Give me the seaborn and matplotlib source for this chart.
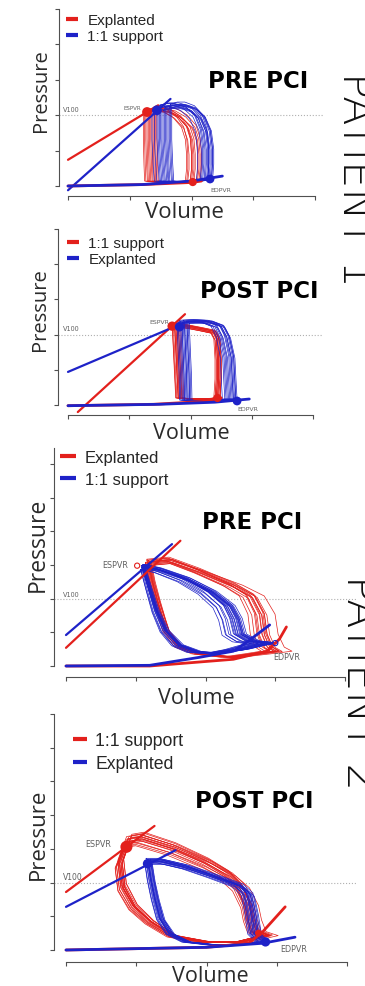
import matplotlib
matplotlib.use("Agg")
import matplotlib.pyplot as plt
from matplotlib.lines import Line2D
import numpy as np
import pandas as pd
import seaborn as sns

W, H = 365, 987
RED = "#e3201c"
BLUE = "#1e22c8"
AXC = "#505050"
LBL = "#606060"

# ---------------- patient 1, pre PCI ----------------
p1_red_v = [66, 66, 66.5, 67, 75, 87, 99, 100, 100, 99, 96, 89, 81, 73, 66]
p1_red_p = [106, 66, 31, 7, 5.5, 5.5, 7, 24, 45, 66, 83, 97.5, 106, 109, 106]
p1_red_esv = [-5, -4, -2, 0, 1, 3, 5, 6, -1, 2, -3, 4]
p1_red_edv = [-4, -2, 0, 1, 3, 5, 7, 8, 2, -3, 6, 0]
p1_red_ps = [1.0, 0.98, 1.02, 0.99, 1.01, 0.97, 1.0, 1.03, 0.98, 1.01, 0.99, 1.02]
p1_blue_v = [74, 74, 75, 76, 87, 103, 113, 114, 114, 112, 107, 99, 89, 81, 74]
p1_blue_p = [111, 66, 31, 7, 5.5, 7, 8.5, 31, 52, 78, 97, 109, 114, 114, 111]
p1_blue_esv = [-6, -4, -2, 0, 1, 2, 4, 5, 7, 9, 10, -1, 3, 6, 8]
p1_blue_edv = [-9, -6, -4, -2, 0, 1, 3, 4, -3, 0, 2, -5, 0, -1, 3]
p1_blue_ps = [0.98, 1.0, 1.02, 0.99, 1.03, 0.97, 1.01, 1.0, 0.98, 1.04, 0.99, 1.02, 0.96, 1.0, 1.01]
p1_red_espvr_v, p1_red_espvr_p = [0, 73], [37, 114]
p1_blue_espvr_v, p1_blue_espvr_p = [0, 83], [-6, 123]
p1_red_edpvr_v, p1_red_edpvr_p = [0, 60, 100, 108], [0, 2, 5, 7]
p1_blue_edpvr_v, p1_blue_edpvr_p = [0, 60, 100, 125], [0, 2, 7, 14]
p1_dot_v = [64, 72, 101, 115]
p1_dot_p = [104.5, 107, 5.6, 9.9]
p1_dot_c = [RED, BLUE, RED, BLUE]
p1_dot_s = [50, 50, 35, 40]

# ---------------- patient 1, post PCI ----------------
p2_red_v = [87, 88, 89, 90, 100, 112, 122, 123, 123, 122, 119, 108, 96, 87]
p2_red_p = [114, 80, 44, 10, 8.5, 8.5, 10, 37, 65, 94, 104, 108, 112, 114]
p2_red_esv = [-2, -1, 0, 0, 1, 2, 3, 4, 5, -2, 1, 3, 0, 2]
p2_red_edv = [-3, -2, -1, 0, 1, 2, 2, -1, 0, 1, -2, 2, 0, -1]
p2_red_ps = [1.0, 0.98, 1.01, 0.99, 1.02, 0.97, 1.0, 1.01, 0.99, 1.02, 0.98, 1.0, 1.01, 0.99]
p2_blue_v = [93, 94, 95, 95.5, 108, 124, 137, 136, 135, 131, 126, 116, 104, 93]
p2_blue_p = [118, 80, 44, 7, 5.7, 7, 8.5, 37, 68, 97, 112, 118, 119, 118]
p2_blue_esv = [-4, -3, -1, 0, 1, 2, 3, 4, 5, 6, -2, 0, 2, 4]
p2_blue_edv = [-11, -9, -7, -5, -4, -3, -2, -1, 0, 1, -6, -8, -2, 0]
p2_blue_ps = [1.0, 0.99, 1.01, 0.98, 1.02, 1.0, 0.99, 1.01, 1.0, 0.98, 1.02, 0.99, 1.0, 1.01]
p2_red_espvr_v, p2_red_espvr_p = [8, 95.5], [-10, 129]
p2_blue_espvr_v, p2_blue_espvr_p = [0, 94], [47, 116.5]
p2_red_edpvr_v, p2_red_edpvr_p = [0, 70, 110, 125], [-1, 1, 5, 10]
p2_blue_edpvr_v, p2_blue_edpvr_p = [0, 75, 120, 148], [-1, 1, 4, 8.5]
p2_dot_v = [85, 91, 122, 138]
p2_dot_p = [112, 111, 10, 5.7]
p2_dot_c = [RED, BLUE, RED, BLUE]
p2_dot_s = [45, 45, 35, 40]

# ---------------- patient 2, pre PCI ----------------
p3_red_v = [58, 61, 65, 69, 72, 82, 96, 120, 139, 153, 148, 144, 142, 135, 121, 96, 74, 58]
p3_red_p = [154, 125, 96, 70, 52, 28, 18, 13, 18, 22, 28, 47, 77, 104, 120, 141, 157, 154]
p3_red_esv = [-1, 0, 1, 2, 3, -1, 0, 1, 2, 0, 1, -1, 2, 3]
p3_red_edv = [-13, -10, -8, -6, -4, -2, -1, 0, 2, -7, -4, 9, 0, -2]
p3_red_ps = [1.0, 0.98, 1.02, 0.97, 1.01, 0.99, 1.03, 1.0, 0.98, 1.02, 0.99, 1.0, 1.01, 0.97]
p3_blue_v = [55, 60, 65, 72, 82, 95, 110, 128, 140, 148, 135, 126, 123, 118, 105, 87, 67, 55]
p3_blue_p = [148, 114, 82, 52, 31, 21, 19, 25, 31, 34, 37, 47, 70, 89, 110, 129, 143, 148]
p3_blue_esv = [-1.5, -1, -0.5, 0, 0.5, 1, 1.5, -1, 0, 0.5, 1, -0.5, 0, 1.5, -1.5, 0.5, 0, 1, -1, 0]
p3_blue_edv = [-18, -15, -12, -10, -8, -6, -4, -3, -1, 0, 1, 2, 3, 4, -14, -7, -2, 0, 1, -5]
p3_blue_ps = [0.97, 0.99, 1.01, 0.98, 1.02, 1.0, 0.99, 1.01, 1.0, 0.98, 1.02, 0.99, 1.0, 1.01,
              0.97, 1.0, 1.02, 0.99, 1.01, 1.0]
p3_red_espvr_v, p3_red_espvr_p = [0, 82], [27, 186]
p3_blue_espvr_v, p3_blue_espvr_p = [0, 76], [46, 181]
p3_red_edpvr_v = [0, 60, 96, 120, 144, 153, 158]
p3_red_edpvr_p = [0, 0, 6, 10, 22, 40, 58]
p3_blue_edpvr_v = [0, 60, 96, 120, 130, 146]
p3_blue_edpvr_p = [0, 1, 13, 22, 36, 61]
p3_dot_v = [51, 150]
p3_dot_p = [149, 34]
p3_dot_c = [RED, BLUE]

# ---------------- patient 2, post PCI ----------------
p4_red_v = [42, 38, 40, 48, 60, 76, 100, 124, 143, 135, 132, 130, 124, 115, 100, 76, 53, 44, 42]
p4_red_p = [154, 131, 95, 65, 42, 21, 12, 12, 22, 28, 46, 68, 95, 113, 131, 153, 168, 165, 154]
p4_red_esv = [-3, -2, -1, 0, 1, 2, 3, -2, 0, 1, 2, -1, 3, 0, -3, 1, 2, -1]
p4_red_edv = [-6, -5, -4, -3, -2, -1, 0, 1, 2, 3, 4, -3, 0, 8, -2, 1, -4, 2]
p4_red_ps = [0.92, 0.95, 0.97, 1.0, 1.02, 0.98, 1.03, 0.94, 1.0, 0.96, 1.01, 0.99, 1.04, 0.97,
             0.93, 1.0, 0.98, 1.02]
p4_blue_v = [58, 60, 63, 67, 74, 86, 108, 127, 142, 136, 134, 131, 124, 105, 86, 67, 58]
p4_blue_p = [132, 105, 76, 46, 24, 12, 7, 9, 12, 24, 53, 83, 96, 110, 123, 132, 132]
p4_blue_esv = [-2, -1, 0, 1, 2, 3, -1, 0, 1, 2, 3.5, -2, 0.5, 1.5, 2.5, 0]
p4_blue_edv = [-7, -6, -5, -4, -3, -2, -1, 0, 1, 2, 3, -5, -2, 0, 1, -3]
p4_blue_ps = [0.98, 1.0, 1.02, 0.97, 1.01, 0.99, 1.03, 1.0, 0.98, 1.02, 0.96, 1.0, 1.01, 0.99, 1.0, 1.02]
p4_red_espvr_v, p4_red_espvr_p = [0, 63], [86, 184]
p4_blue_espvr_v, p4_blue_espvr_p = [0, 78], [64, 148]
p4_red_edpvr_v, p4_red_edpvr_p = [0, 100, 130, 140, 156], [0, 4, 10, 27, 64]
p4_blue_edpvr_v, p4_blue_edpvr_p = [0, 100, 140, 163], [0, 4, 10, 19]
p4_dot_v = [43, 58, 137, 142]
p4_dot_p = [153, 128, 25, 12]
p4_dot_c = [RED, BLUE, RED, BLUE]
p4_dot_s = [75, 45, 25, 45]


def beats(v, p, esv, edv, ps):
    v = np.asarray(v, float)
    p = np.asarray(p, float)
    lo, hi = v.min(), v.max()
    frac = (v - lo) / (hi - lo)
    parts = []
    for i, (a, b, s) in enumerate(zip(esv, edv, ps)):
        vv = lo + a + frac * (hi + b - lo - a)
        parts.append(pd.DataFrame({"V": vv, "P": p * s, "beat": i}))
    return pd.concat(parts, ignore_index=True)


def loops(ax, v, p, esv, edv, ps, color, lw=0.5):
    df = beats(v, p, esv, edv, ps)
    sns.lineplot(data=df, x="V", y="P", units="beat", estimator=None, sort=False,
                 color=color, lw=lw, ax=ax, legend=False)


def line(ax, v, p, color, lw=1.6):
    sns.lineplot(x=v, y=p, sort=False, estimator=None, color=color, lw=lw, ax=ax)


def fmt(ax, left, bottom, right, top, x0, x1, y0, y1, xmax, ymax, ytop=None):
    ax.set_position([left / W, 1 - bottom / H, (right - left) / W, (bottom - top) / H])
    sx = xmax / (x1 - x0)
    sy = ymax / (y0 - y1)
    ax.set_xlim((left - x0) * sx, (right - x0) * sx)
    ax.set_ylim((y0 - bottom) * sy, (y0 - top) * sy)
    ax.set_xticks(np.arange(0, xmax + 1, 50))
    ax.set_yticks(np.arange(0, ymax + 1, 50))
    ax.set_xticklabels([])
    ax.set_yticklabels([])
    ax.set_xlabel("")
    ax.set_ylabel("")
    sns.despine(ax=ax)
    ax.spines["bottom"].set_bounds(0, xmax)
    ax.spines["left"].set_bounds(0, ymax if ytop is None else ytop)
    for s in ("left", "bottom"):
        ax.spines[s].set_color(AXC)
        ax.spines[s].set_linewidth(0.8)
    ax.tick_params(length=3, width=0.8, color=AXC, direction="out")
    ax.patch.set_alpha(0)
    ax.axhline(100, color="#b0b0b0", ls=":", lw=0.8, zorder=0)


def ftext(x, y, s, **kw):
    fig.text(x / W, 1 - y / H, s, **kw)


def legend(ax, labels, colors, x, y, fs, hl, tp, ls):
    hs = [Line2D([], [], color=c, lw=3, solid_capstyle="butt") for c in colors]
    ax.legend(hs, labels, loc="upper left", bbox_to_anchor=(x / W, 1 - y / H),
              bbox_transform=fig.transFigure, frameon=False, borderpad=0, borderaxespad=0,
              handlelength=hl, handletextpad=tp, labelspacing=ls,
              prop={"family": "Liberation Sans", "size": fs})


sns.set_style("ticks")
plt.rcParams["font.family"] = ["DejaVu Sans"]
fig = plt.figure(figsize=(W / 100, H / 100), dpi=100)
fig.patch.set_facecolor("white")

# panel 1
ax1 = fig.add_axes([0, 0, 1, 1])
loops(ax1, p1_red_v, p1_red_p, p1_red_esv, p1_red_edv, p1_red_ps, RED)
loops(ax1, p1_blue_v, p1_blue_p, p1_blue_esv, p1_blue_edv, p1_blue_ps, BLUE)
line(ax1, p1_red_espvr_v, p1_red_espvr_p, RED)
line(ax1, p1_blue_espvr_v, p1_blue_espvr_p, BLUE)
line(ax1, p1_red_edpvr_v, p1_red_edpvr_p, RED, 2)
line(ax1, p1_blue_edpvr_v, p1_blue_edpvr_p, BLUE, 2)
sns.scatterplot(x=p1_dot_v, y=p1_dot_p, c=p1_dot_c, s=p1_dot_s, linewidth=0, ax=ax1, zorder=5)
fmt(ax1, 59, 197, 324, 0, 68, 315, 187, 10, 200, 250)
legend(ax1, ["Explanted", "1:1 support"], [RED, BLUE], 66, 14, 11, 0.8, 0.6, 0.15)

# panel 2
ax2 = fig.add_axes([0, 0, 1, 1])
loops(ax2, p2_red_v, p2_red_p, p2_red_esv, p2_red_edv, p2_red_ps, RED)
loops(ax2, p2_blue_v, p2_blue_p, p2_blue_esv, p2_blue_edv, p2_blue_ps, BLUE)
line(ax2, p2_red_espvr_v, p2_red_espvr_p, RED)
line(ax2, p2_blue_espvr_v, p2_blue_espvr_p, BLUE)
line(ax2, p2_red_edpvr_v, p2_red_edpvr_p, RED, 2)
line(ax2, p2_blue_edpvr_v, p2_blue_edpvr_p, BLUE, 2)
sns.scatterplot(x=p2_dot_v, y=p2_dot_p, c=p2_dot_c, s=p2_dot_s, linewidth=0, ax=ax2, zorder=5)
fmt(ax2, 58, 416, 322, 220, 68, 313, 406, 230, 200, 250)
legend(ax2, ["1:1 support", "Explanted"], [RED, BLUE], 67, 237, 11, 0.8, 0.6, 0.15)

# panel 3
ax3 = fig.add_axes([0, 0, 1, 1])
loops(ax3, p3_red_v, p3_red_p, p3_red_esv, p3_red_edv, p3_red_ps, RED)
loops(ax3, p3_blue_v, p3_blue_p, p3_blue_esv, p3_blue_edv, p3_blue_ps, BLUE)
line(ax3, p3_red_espvr_v, p3_red_espvr_p, RED)
line(ax3, p3_blue_espvr_v, p3_blue_espvr_p, BLUE)
line(ax3, p3_red_edpvr_v, p3_red_edpvr_p, RED, 2)
line(ax3, p3_blue_edpvr_v, p3_blue_edpvr_p, BLUE, 2)
sns.scatterplot(x=p3_dot_v, y=p3_dot_p, facecolor="none", edgecolor=p3_dot_c, s=14,
                linewidth=0.8, ax=ax3, zorder=5)
fmt(ax3, 54, 678, 357, 440, 66, 345, 667, 465, 200, 300, ytop=324)
legend(ax3, ["Explanted", "1:1 support"], [RED, BLUE], 60, 451, 12, 0.95, 0.55, 0.42)

# panel 4
ax4 = fig.add_axes([0, 0, 1, 1])
loops(ax4, p4_red_v, p4_red_p, p4_red_esv, p4_red_edv, p4_red_ps, RED)
loops(ax4, p4_blue_v, p4_blue_p, p4_blue_esv, p4_blue_edv, p4_blue_ps, BLUE)
line(ax4, p4_red_espvr_v, p4_red_espvr_p, RED)
line(ax4, p4_blue_espvr_v, p4_blue_espvr_p, BLUE)
line(ax4, p4_red_edpvr_v, p4_red_edpvr_p, RED, 2)
line(ax4, p4_blue_edpvr_v, p4_blue_edpvr_p, BLUE, 2)
sns.scatterplot(x=p4_dot_v, y=p4_dot_p, c=p4_dot_c, s=p4_dot_s, linewidth=0, ax=ax4, zorder=5)
fmt(ax4, 54, 963, 357, 705, 66, 347, 951, 715, 200, 350)
legend(ax4, ["1:1 support", "Explanted"], [RED, BLUE], 73, 733, 12.7, 0.8, 0.45, 0.34)

# axis titles
lab = dict(family="Open Sans", color="#2a2a2a", ha="center", va="center")
ftext(41, 91, "Pressure", rotation=90, fontsize=14.5, **lab)
ftext(184, 212, "Volume", fontsize=16, **lab)
ftext(40, 310, "Pressure", rotation=90, fontsize=14.5, **lab)
ftext(191, 434, "Volume", fontsize=15.5, **lab)
ftext(38, 545, "Pressure", rotation=90, fontsize=16.5, **lab)
ftext(196, 699, "Volume", fontsize=15.5, **lab)
ftext(38, 834, "Pressure", rotation=90, fontsize=16, **lab)
ftext(210, 977, "Volume", fontsize=15.5, **lab)

# panel titles
ttl = dict(fontweight="bold", fontsize=16.5, color="black", ha="center", va="center")
ftext(258, 81, "PRE PCI", **ttl)
ftext(259, 291, "POST PCI", **ttl)
ftext(252, 523, "PRE PCI", **ttl)
ftext(254, 801, "POST PCI", **ttl)

# small annotations
sm = dict(color=LBL, ha="left", va="center")
ftext(63, 110, "V100", fontsize=4.7, **sm)
ftext(123, 108, "ESPVR", fontsize=4, **sm)
ftext(210, 190, "EDPVR", fontsize=4.5, **sm)
ftext(63, 329, "V100", fontsize=4.7, **sm)
ftext(149, 323, "ESPVR", fontsize=4.5, **sm)
ftext(237, 410, "EDPVR", fontsize=4.5, **sm)
ftext(63, 595, "V100", fontsize=4.7, **sm)
ftext(102, 566, "ESPVR", fontsize=5.8, **sm)
ftext(273, 658, "EDPVR", fontsize=5.8, **sm)
ftext(63, 878, "V100", fontsize=5.5, **sm)
ftext(85, 845, "ESPVR", fontsize=5.8, **sm)
ftext(280, 950, "EDPVR", fontsize=5.8, **sm)

# patient labels, cut by the right edge as in the source
pt = dict(fontsize=31, fontweight="light", color="#111111", rotation=-90,
          rotation_mode="anchor", ha="left", va="baseline")
ftext(343, 72, "PATIENT 1", **pt)
ftext(347, 575, "PATIENT 2", **pt)

fig.savefig("out.png", dpi=100)
